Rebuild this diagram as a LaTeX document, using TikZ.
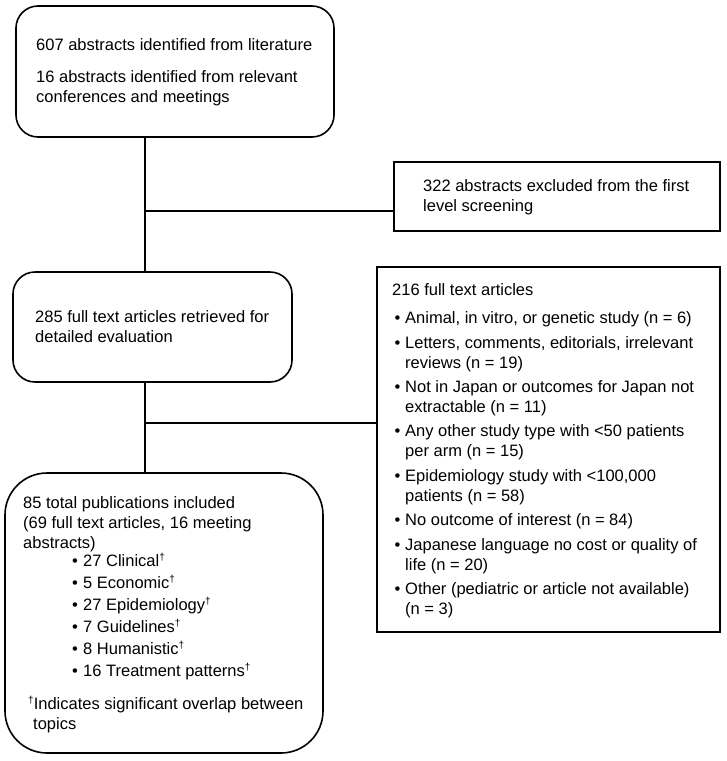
\documentclass[tikz,border=0pt]{standalone}
\usepackage{fontspec}
\setmainfont{Liberation Sans}
\newcommand\bul{\hspace*{2.5pt}\makebox[10.5pt][l]{•}}
\newcommand\ind{\hspace*{13pt}}
\newcommand\bulb{\makebox[11pt][l]{•}}
\newcommand\dg{\raisebox{0.36em}{\fontsize{10}{10}\selectfont †}}
\tikzset{
  boxline/.style={draw=black, line width=1.6pt},
  rbox/.style={boxline, rounded corners=22pt, inner sep=0pt},
  sbox/.style={boxline, inner sep=0pt},
  txt/.style={anchor=north west, inner sep=0pt, align=left, font=\fontsize{16.5}{20}\selectfont},
  txtb/.style={anchor=north west, inner sep=0pt, align=left, font=\fontsize{16.5}{22}\selectfont},
  conn/.style={line width=1.6pt, draw=black}
}
\begin{document}
\begin{tikzpicture}[x=1pt,y=-1pt]
\useasboundingbox (0,0) rectangle (727,761);
% boxes
\node[rbox, minimum width=318pt, minimum height=131pt] (b1) at (175,71.5) {};
\node[sbox, minimum width=326pt, minimum height=69pt] (b2) at (557,196.5) {};
\node[rbox, minimum width=279pt, minimum height=110pt] (b3) at (152.5,327) {};
\node[sbox, minimum width=343pt, minimum height=365pt] (b4) at (548.5,449.5) {};
\node[rbox, rounded corners=42pt, minimum width=318pt, minimum height=280pt] (b5) at (164,613) {};
% texts
\node[txt] (t1) at (36,38.5) {607 abstracts identified from literature\\[12pt]16 abstracts identified from relevant\\conferences and meetings};
\node[txt] (t2) at (423,179.5) {322 abstracts excluded from the first\\level screening};
\node[txt] (t3) at (35,310.5) {285 full text articles retrieved for\\detailed evaluation};
\node[txt] (t4) at (392,283.5) {216 full text articles\\[8pt]
\bul Animal, in vitro, or genetic study (n = 6)\\[4.4pt]
\bul Letters, comments, editorials, irrelevant\\ \ind reviews (n = 19)\\[4.4pt]
\bul Not in Japan or outcomes for Japan not\\ \ind extractable (n = 11)\\[4.4pt]
\bul Any other study type with <50 patients\\ \ind per arm (n = 15)\\[4.4pt]
\bul Epidemiology study with <100,000\\ \ind patients (n = 58)\\[4.4pt]
\bul No outcome of interest (n = 84)\\[4.4pt]
\bul Japanese language no cost or quality of\\ \ind life (n = 20)\\[4.4pt]
\bul Other (pediatric or article not available)\\ \ind (n = 3)};
\node[txt] (t5) at (23,496.5) {85 total publications included\\(69 full text articles, 16 meeting\\abstracts)};
\node[txtb] (t6) at (72,553.5) {\bulb 27 Clinical\dg\\\bulb 5 Economic\dg\\\bulb 27 Epidemiology\dg\\\bulb 7 Guidelines\dg\\\bulb 8 Humanistic\dg\\\bulb 16 Treatment patterns\dg};
\node[txt] (t7) at (28,696.5) {\dg Indicates significant overlap between\\\hspace*{5pt}topics};
% connectors
\coordinate (j1) at (145,211);
\coordinate (j2) at (145,423);
\draw[conn] (b1.south -| j1) -- (b3.north -| j1);
\draw[conn] (j1) -- (b2.west |- j1);
\draw[conn] (b3.south -| j2) -- (b5.north -| j2);
\draw[conn] (j2) -- (b4.west |- j2);
\end{tikzpicture}
\end{document}
